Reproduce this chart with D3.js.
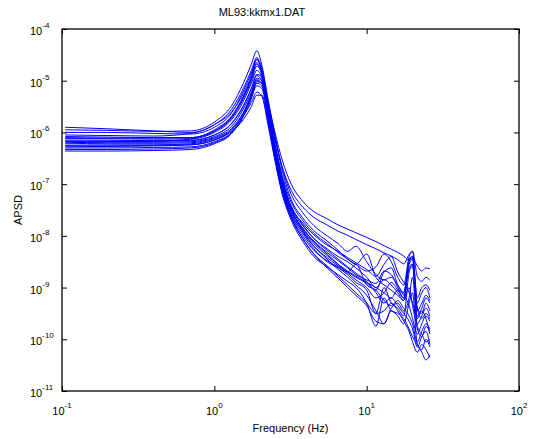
<!DOCTYPE html>
<html>
<head>
<meta charset="utf-8">
<script src="https://cdn.jsdelivr.net/npm/d3@7"></script>
<style>
  body { margin: 0; background: #fff; }
  text { font-family: "Liberation Sans", Arial, Helvetica, sans-serif; fill: #000; }
</style>
</head>
<body>
<svg id="chart" width="537" height="439"></svg>
<script>
// Frequency grid (Hz) shared by every spectrum
const frequencies = [0.105, 0.2, 0.4, 0.7, 1.0, 1.3, 1.55, 1.75, 1.9, 2.05, 2.25, 2.5, 2.8, 3.2, 3.8, 4.5,
  5.5, 6.5, 7.5, 8.5, 10, 11.5, 13, 14.5, 16, 17.5, 19, 20, 21.5, 23, 24.5, 26];

// Auto power spectral density of each record, stored as log10(APSD)
const spectraLog10 = [
  [-5.90, -5.93, -5.97, -6.00, -5.85, -5.55, -5.15, -4.80, -4.55, -4.85, -5.45, -6.10, -6.70, -7.20, -7.55, -7.80, -8.00, -8.15, -8.30, -8.20, -8.50, -8.75, -8.85, -8.80, -8.95, -9.10, -8.60, -8.55, -9.40, -9.50, -9.30, -9.45],
  [-6.05, -6.06, -6.07, -6.02, -5.85, -5.60, -5.25, -4.90, -4.58, -4.75, -5.40, -6.00, -6.55, -7.00, -7.33, -7.53, -7.67, -7.79, -7.87, -7.94, -8.03, -8.11, -8.19, -8.26, -8.32, -8.39, -8.47, -8.44, -8.58, -8.68, -8.62, -8.64],
  [-6.18, -6.18, -6.17, -6.13, -5.98, -5.72, -5.35, -5.00, -4.72, -4.85, -5.50, -6.12, -6.68, -7.12, -7.44, -7.64, -7.79, -7.91, -7.99, -8.07, -8.17, -8.25, -8.33, -8.39, -8.46, -8.54, -8.36, -8.30, -8.78, -8.88, -8.80, -8.86],
  [-5.95, -5.96, -5.98, -5.97, -5.80, -5.48, -5.05, -4.68, -4.42, -4.70, -5.35, -6.05, -6.75, -7.30, -7.65, -7.90, -8.10, -8.28, -8.45, -8.55, -8.68, -8.60, -8.35, -8.50, -8.80, -8.95, -8.40, -8.30, -9.30, -9.10, -9.00, -9.20],
  [-6.00, -6.00, -6.02, -6.03, -5.90, -5.62, -5.20, -4.85, -4.60, -4.80, -5.50, -6.25, -6.90, -7.45, -7.80, -8.05, -8.25, -8.40, -8.50, -8.62, -8.80, -9.00, -8.85, -8.95, -9.10, -9.25, -9.00, -9.35, -9.70, -9.55, -9.40, -9.55],
  [-6.08, -6.09, -6.10, -6.10, -5.95, -5.68, -5.30, -4.95, -4.68, -4.90, -5.60, -6.35, -7.00, -7.50, -7.85, -8.12, -8.35, -8.55, -8.72, -8.85, -9.00, -9.20, -9.10, -8.90, -9.05, -9.20, -8.55, -8.45, -9.60, -9.45, -9.60, -9.90],
  [-6.12, -6.12, -6.13, -6.12, -6.00, -5.75, -5.40, -5.05, -4.80, -4.95, -5.58, -6.30, -6.95, -7.45, -7.75, -7.98, -8.18, -8.30, -8.42, -8.52, -8.65, -8.78, -8.55, -8.40, -8.70, -8.90, -9.10, -9.30, -9.55, -9.40, -9.20, -9.30],
  [-6.15, -6.15, -6.16, -6.15, -6.05, -5.82, -5.48, -5.15, -4.90, -5.00, -5.65, -6.40, -7.05, -7.55, -7.90, -8.20, -8.45, -8.65, -8.80, -8.95, -9.15, -9.45, -9.70, -9.40, -9.30, -9.45, -9.20, -8.80, -9.80, -9.95, -9.75, -9.85],
  [-6.20, -6.19, -6.19, -6.18, -6.08, -5.88, -5.55, -5.22, -4.98, -5.05, -5.70, -6.45, -7.10, -7.60, -7.95, -8.25, -8.50, -8.62, -8.75, -8.90, -9.05, -9.50, -9.00, -9.30, -9.40, -9.55, -8.70, -8.55, -9.75, -9.90, -10.05, -10.00],
  [-6.22, -6.21, -6.21, -6.20, -6.10, -5.92, -5.62, -5.32, -5.10, -5.15, -5.75, -6.50, -7.15, -7.62, -8.00, -8.28, -8.48, -8.60, -8.70, -8.55, -8.95, -9.05, -9.25, -9.35, -9.25, -9.40, -9.55, -9.70, -10.05, -9.85, -9.70, -9.80],
  [-6.25, -6.24, -6.24, -6.22, -6.12, -5.95, -5.68, -5.42, -5.22, -5.30, -5.85, -6.55, -7.20, -7.65, -8.05, -8.35, -8.62, -8.82, -9.00, -9.15, -9.35, -9.65, -9.70, -9.45, -9.55, -9.70, -9.30, -9.10, -10.10, -10.20, -10.00, -10.15],
  [-6.28, -6.27, -6.26, -6.24, -6.15, -5.98, -5.75, -5.50, -5.28, -5.28, -5.80, -6.50, -7.20, -7.70, -8.10, -8.40, -8.60, -8.75, -8.88, -9.00, -9.30, -9.75, -9.20, -9.45, -9.50, -9.60, -9.80, -9.95, -10.10, -10.25, -10.40, -10.30],
  [-6.30, -6.30, -6.29, -6.28, -6.18, -6.00, -5.70, -5.35, -5.05, -5.10, -5.68, -6.40, -7.05, -7.55, -7.92, -8.20, -8.42, -8.58, -8.70, -8.80, -8.92, -9.05, -8.70, -8.62, -8.95, -9.15, -9.35, -9.60, -9.90, -9.70, -9.55, -9.65],
  [-6.33, -6.33, -6.32, -6.30, -6.20, -6.00, -5.65, -5.25, -4.95, -5.00, -5.60, -6.35, -7.00, -7.50, -7.88, -8.15, -8.38, -8.55, -8.68, -8.78, -8.90, -9.00, -9.10, -9.20, -9.05, -9.10, -8.45, -8.40, -9.20, -9.00, -8.95, -9.05],
  [-6.36, -6.36, -6.35, -6.33, -6.22, -6.02, -5.68, -5.30, -5.00, -5.05, -5.62, -6.40, -7.10, -7.65, -8.05, -8.35, -8.58, -8.78, -8.95, -9.10, -9.30, -9.50, -9.45, -9.30, -9.45, -9.65, -9.85, -10.05, -10.25, -10.10, -10.20, -10.35],
  [-6.10, -6.11, -6.11, -6.10, -5.97, -5.70, -5.32, -4.95, -4.65, -4.85, -5.50, -6.20, -6.85, -7.35, -7.70, -7.95, -8.15, -8.32, -8.45, -8.55, -8.35, -8.80, -8.95, -9.05, -9.15, -9.25, -8.50, -8.40, -9.45, -9.30, -9.15, -9.25],
  [-6.17, -6.17, -6.17, -6.16, -6.05, -5.83, -5.50, -5.15, -4.88, -4.92, -5.55, -6.28, -6.92, -7.42, -7.78, -8.05, -8.28, -8.45, -8.60, -8.72, -8.88, -9.10, -9.30, -9.20, -9.35, -9.50, -9.65, -9.80, -10.15, -9.95, -9.85, -10.10],
  [-6.26, -6.26, -6.25, -6.24, -6.14, -5.95, -5.62, -5.28, -5.02, -5.05, -5.65, -6.38, -7.02, -7.50, -7.85, -8.10, -8.32, -8.48, -8.62, -8.75, -8.85, -8.92, -8.68, -8.75, -9.00, -9.20, -8.65, -8.60, -9.40, -9.60, -9.50, -9.60]
];

// Axis ticks: one per decade
const xTickValues = [0.1, 1, 10, 100];
const xTickExponents = ["-1", "0", "1", "2"];
const yTickValues = [1e-11, 1e-10, 1e-9, 1e-8, 1e-7, 1e-6, 1e-5, 1e-4];
const yTickExponents = ["-11", "-10", "-9", "-8", "-7", "-6", "-5", "-4"];

const titleText = "ML93:kkmx1.DAT";
const xLabelText = "Frequency (Hz)";
const yLabelText = "APSD";

const plot = { left: 62, right: 519, top: 29, bottom: 391 };

const svg = d3.select("#chart");

const x = d3.scaleLog().domain([0.1, 100]).range([plot.left, plot.right]);
const y = d3.scaleLog().domain([1e-11, 1e-4]).range([plot.bottom, plot.top]);

// Spectra
const line = d3.line()
  .x(d => x(d[0]))
  .y(d => y(d[1]))
  .curve(d3.curveMonotoneX);

svg.append("g")
  .selectAll("path")
  .data(spectraLog10)
  .join("path")
  .attr("d", s => line(s.map((v, i) => [frequencies[i], Math.pow(10, v)])))
  .attr("fill", "none")
  .attr("stroke", "#0000ff")
  .attr("stroke-width", 1);

// Inward ticks on all four sides
const tickLen = 5;
function styleAxis(g) {
  g.select(".domain").remove();
  g.selectAll(".tick line").attr("stroke", "#000").attr("stroke-width", 1);
  g.selectAll(".tick text").remove();
}
svg.append("g").attr("transform", `translate(0,${plot.bottom})`)
  .call(d3.axisBottom(x).tickValues(xTickValues).tickSize(-tickLen)).call(styleAxis);
svg.append("g").attr("transform", `translate(0,${plot.top})`)
  .call(d3.axisTop(x).tickValues(xTickValues).tickSize(-tickLen)).call(styleAxis);
svg.append("g").attr("transform", `translate(${plot.left},0)`)
  .call(d3.axisLeft(y).tickValues(yTickValues).tickSize(-tickLen)).call(styleAxis);
svg.append("g").attr("transform", `translate(${plot.right},0)`)
  .call(d3.axisRight(y).tickValues(yTickValues).tickSize(-tickLen)).call(styleAxis);

// Box
svg.append("rect")
  .attr("x", plot.left).attr("y", plot.top)
  .attr("width", plot.right - plot.left).attr("height", plot.bottom - plot.top)
  .attr("fill", "none").attr("stroke", "#000").attr("stroke-width", 1.3);

// Tick labels as 10 with a raised exponent
const xLabels = svg.append("g");
xTickValues.forEach((v, i) => {
  const t = xLabels.append("text")
    .attr("x", x(v)).attr("y", plot.bottom + 24)
    .attr("text-anchor", "middle").attr("font-size", 11);
  t.append("tspan").text("10");
  t.append("tspan").attr("dy", -7).attr("font-size", 8).text(xTickExponents[i]);
});

const yLabels = svg.append("g");
yTickValues.forEach((v, i) => {
  const t = yLabels.append("text")
    .attr("x", plot.left - 32).attr("y", y(v) + 6)
    .attr("text-anchor", "start").attr("font-size", 11);
  t.append("tspan").text("10");
  t.append("tspan").attr("dy", -7).attr("font-size", 8).text(yTickExponents[i]);
});

// Title and axis labels
svg.append("text")
  .attr("x", 262).attr("y", 16)
  .attr("text-anchor", "middle").attr("font-size", 11)
  .text(titleText);

svg.append("text")
  .attr("x", (plot.left + plot.right) / 2).attr("y", 432)
  .attr("text-anchor", "middle").attr("font-size", 11)
  .text(xLabelText);

svg.append("text")
  .attr("transform", `translate(22,${(plot.top + plot.bottom) / 2}) rotate(-90)`)
  .attr("text-anchor", "middle").attr("font-size", 11)
  .text(yLabelText);
</script>
</body>
</html>
